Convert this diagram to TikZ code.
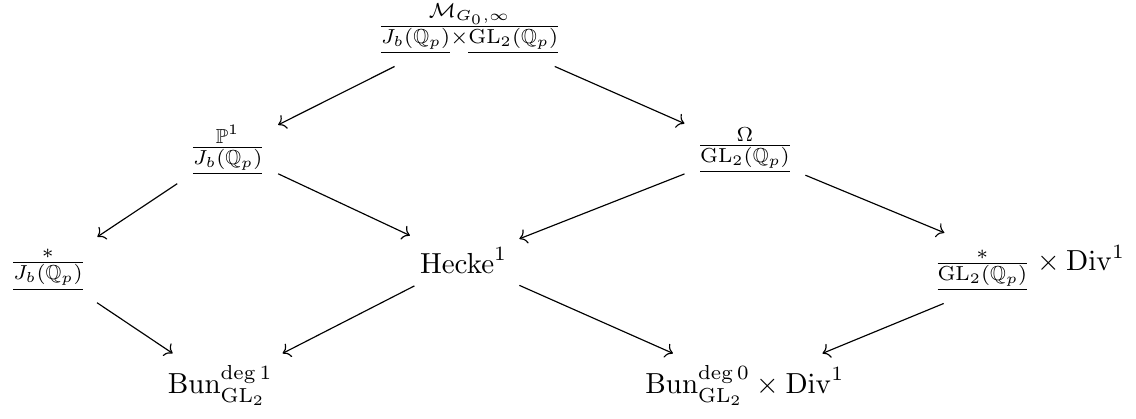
\documentclass[tikz,border=0pt]{standalone}
\usepackage{amsmath,amssymb}
\usetikzlibrary{arrows.meta}
\tikzset{
  obj/.style={inner sep=4pt},
  map/.style={-{To}, line width=0.4pt},
}

\begin{document}
\begin{tikzpicture}
    \useasboundingbox (0,0) rectangle (13.77,5.07);
    \node[obj] (tower) at (5.69,4.72) {$\frac{\mathcal{M}_{G_0,\infty}}{\underline{J_b(\mathbb{Q}_p)}\times\underline{\mathrm{GL}_2(\mathbb{Q}_p)}}$};
    \node[obj] (proj) at (2.76,3.25) {$\frac{\mathbb{P}^1}{\underline{J_b(\mathbb{Q}_p)}}$};
    \node[obj] (drin) at (9.03,3.25) {$\frac{\Omega}{\underline{\mathrm{GL}_2(\mathbb{Q}_p)}}$};
    \node[obj] (ptJ) at (0.58,1.80) {$\frac{*}{\underline{J_b(\mathbb{Q}_p)}}$};
    \node[obj] (hecke) at (5.62,1.91) {$\mathrm{Hecke}^1$};
    \node[obj] (ptGL) at (12.48,1.82) {$\frac{*}{\underline{\mathrm{GL}_2(\mathbb{Q}_p)}}\times\mathrm{Div}^1$};
    \node[obj] (bunone) at (2.67,0.40) {$\mathrm{Bun}_{\mathrm{GL}_2}^{\deg 1}$};
    \node[obj] (bunzero) at (9.03,0.40) {$\mathrm{Bun}_{\mathrm{GL}_2}^{\deg 0}\times\mathrm{Div}^1$};
    \draw[map] (tower) -- (proj);
    \draw[map] (tower) -- (drin);
    \draw[map] (proj) -- (ptJ);
    \draw[map] (proj) -- (hecke);
    \draw[map] (drin) -- (hecke);
    \draw[map] (drin) -- (ptGL);
    \draw[map] (ptJ) -- (bunone);
    \draw[map] (hecke) -- (bunone);
    \draw[map] (hecke) -- (bunzero);
    \draw[map] (ptGL) -- (bunzero);
  \end{tikzpicture}
\end{document}
